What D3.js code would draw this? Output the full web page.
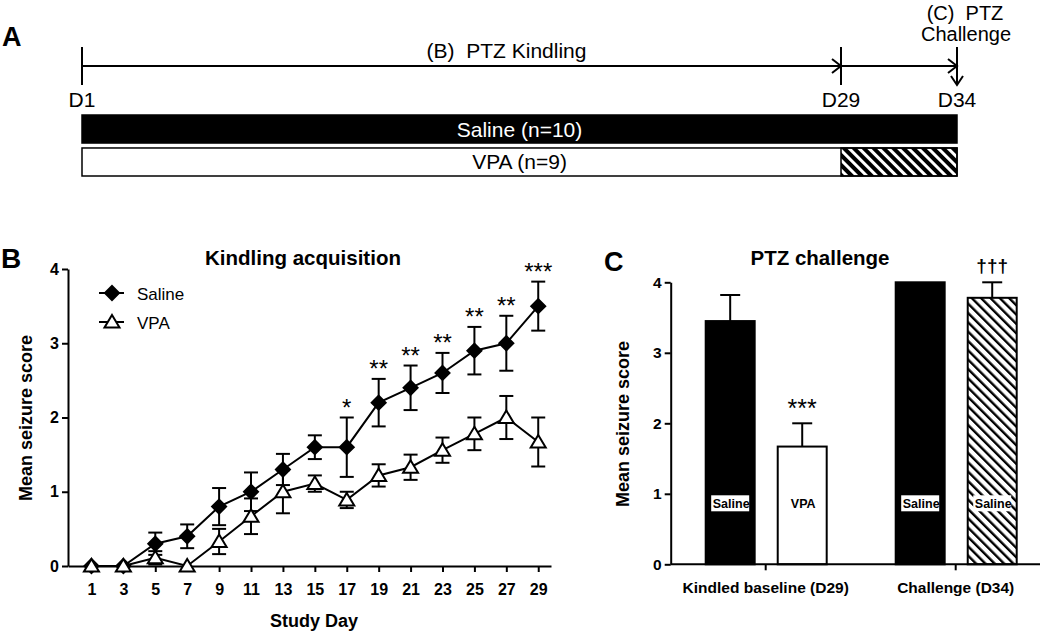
<!DOCTYPE html>
<html>
<head>
<meta charset="utf-8">
<script src="https://cdn.jsdelivr.net/npm/d3@7/dist/d3.min.js"></script>
<style>
body { margin: 0; background: #fff; }
svg { display: block; font-family: 'Liberation Sans', Arial, sans-serif; }
</style>
</head>
<body>
<svg id="fig" width="1050" height="631"></svg>
<script>
// panel A - study timeline
const timelineDays = [1, 29, 34]
const timelineLabels = ['D1', 'D29', 'D34']
const rowLabels = ['Saline (n=10)', 'VPA (n=9)']
const washoutFrom = [null, 29]

// panel B - kindling acquisition (mean +/- sem)
const studyDays = [1, 3, 5, 7, 9, 11, 13, 15, 17, 19, 21, 23, 25, 27, 29]
const salineMean = [0, 0, 0.3, 0.4, 0.8, 1.0, 1.3, 1.6, 1.6, 2.2, 2.4, 2.6, 2.9, 3.0, 3.5]
const salineSem = [0, 0, 0.15, 0.16, 0.25, 0.26, 0.21, 0.16, 0.4, 0.32, 0.3, 0.27, 0.32, 0.37, 0.33]
const vpaMean = [0, 0, 0.11, 0, 0.33, 0.67, 1.0, 1.11, 0.89, 1.22, 1.33, 1.56, 1.78, 2.0, 1.67]
const vpaSem = [0, 0, 0.09, 0, 0.17, 0.24, 0.29, 0.11, 0.11, 0.15, 0.17, 0.17, 0.22, 0.29, 0.33]
const dayStars = ['', '', '', '', '', '', '', '', '*', '**', '**', '**', '**', '**', '***']
const scoreTicks = [0, 1, 2, 3, 4]

// panel C - PTZ challenge
const challengeGroups = ['Kindled baseline (D29)', 'Challenge (D34)']
const firstBar = [3.45, 4.0]
const firstErr = [0.37, 0]
const secondBar = [1.67, 3.78]
const secondErr = [0.33, 0.22]
const barLabels = [['Saline', 'VPA'], ['Saline', 'Saline']]
const barMarks = [['', '***'], ['', '\u2020\u2020\u2020']]

const svg = d3.select('#fig')
const defs = svg.append('defs')

// hatch patterns (diagonal \ stripes)
defs.append('pattern')
	.attr('id', 'hatchA')
	.attr('patternUnits', 'userSpaceOnUse')
	.attr('width', 7).attr('height', 7)
	.attr('patternTransform', 'rotate(-45)')
	.append('rect').attr('width', 4).attr('height', 7).attr('fill', '#000')
defs.append('pattern')
	.attr('id', 'hatchC')
	.attr('patternUnits', 'userSpaceOnUse')
	.attr('width', 6.6).attr('height', 6.6)
	.attr('patternTransform', 'rotate(-45)')
	.append('rect').attr('width', 2.4).attr('height', 6.6).attr('fill', '#000')

// ---------------- panel A ----------------
const gA = svg.append('g')
const xA = d3.scaleLinear().domain(timelineDays).range([82, 841, 957])
const lineY = 66

gA.append('text').text('A')
	.attr('x', 2).attr('y', 46)
	.attr('font-size', 27).attr('font-weight', 'bold')

gA.append('line')
	.attr('x1', xA(1)).attr('x2', xA(34))
	.attr('y1', lineY).attr('y2', lineY)
	.attr('stroke', '#000').attr('stroke-width', 2)

// vertical ticks at D1 and D29, arrow at D34
timelineDays.forEach((d, i) => {
	gA.append('line')
		.attr('x1', xA(d)).attr('x2', xA(d))
		.attr('y1', 47).attr('y2', i == 2 ? 84 : 85)
		.attr('stroke', '#000').attr('stroke-width', 2)
	gA.append('text').text(timelineLabels[i])
		.attr('x', xA(d)).attr('y', 107)
		.attr('text-anchor', 'middle')
		.attr('font-size', 21)
})
// right-pointing chevrons
;[29, 34].forEach(d => {
	const x = xA(d)
	gA.append('polyline')
		.attr('points', [[x - 9, lineY - 7], [x, lineY], [x - 9, lineY + 7]].join(' '))
		.attr('fill', 'none').attr('stroke', '#000').attr('stroke-width', 2)
})
// down chevron on D34
gA.append('polyline')
	.attr('points', [[xA(34) - 6, 76], [xA(34), 85], [xA(34) + 6, 76]].join(' '))
	.attr('fill', 'none').attr('stroke', '#000').attr('stroke-width', 2)

gA.append('text').text('(B)  PTZ Kindling')
	.attr('x', (xA(1) + xA(29)) / 2 + 45).attr('y', 58)
	.attr('text-anchor', 'middle').attr('font-size', 21)
	.style('white-space', 'pre')
gA.append('text').text('(C)  PTZ')
	.attr('x', 965).attr('y', 20)
	.attr('text-anchor', 'middle').attr('font-size', 20)
	.style('white-space', 'pre')
gA.append('text').text('Challenge')
	.attr('x', 966).attr('y', 41)
	.attr('text-anchor', 'middle').attr('font-size', 20)

// treatment rows
const rowY = d3.scaleBand().domain(rowLabels).range([115, 176]).paddingInner(0.15)
rowLabels.forEach((lab, i) => {
	const y0 = rowY(lab)
	const h = rowY.bandwidth()
	gA.append('rect')
		.attr('x', xA(1)).attr('y', y0)
		.attr('width', xA(34) - xA(1)).attr('height', h)
		.attr('fill', i == 0 ? '#000' : '#fff')
		.attr('stroke', '#000').attr('stroke-width', 1.5)
	if (washoutFrom[i] != null) {
		gA.append('rect')
			.attr('x', xA(washoutFrom[i])).attr('y', y0)
			.attr('width', xA(34) - xA(washoutFrom[i])).attr('height', h)
			.attr('fill', 'url(#hatchA)')
			.attr('stroke', '#000').attr('stroke-width', 1.5)
	}
	gA.append('text').text(lab)
		.attr('x', (xA(1) + xA(34)) / 2).attr('y', y0 + h / 2 + 7.5)
		.attr('text-anchor', 'middle').attr('font-size', 21)
		.attr('fill', i == 0 ? '#fff' : '#000')
})

// ---------------- panel B ----------------
const gB = svg.append('g')
const xB = d3.scaleLinear().domain([-0.47, 29.8]).range([68, 551])
const yB = d3.scaleLinear().domain([0, 4]).range([566, 269])

gB.append('text').text('B')
	.attr('x', 1).attr('y', 268)
	.attr('font-size', 28).attr('font-weight', 'bold')
gB.append('text').text('Kindling acquisition')
	.attr('x', 303).attr('y', 265)
	.attr('text-anchor', 'middle')
	.attr('font-size', 20.5).attr('font-weight', 'bold')

const axB = gB.append('g')
	.attr('transform', `translate(${xB.range()[0]},0)`)
	.call(d3.axisLeft(yB).tickValues(scoreTicks).tickFormat(d3.format('d'))
		.tickSize(6).tickSizeOuter(0).tickPadding(3))
const axBx = gB.append('g')
	.attr('transform', `translate(0,${yB(0)})`)
	.call(d3.axisBottom(xB).tickValues(studyDays).tickFormat(d3.format('d'))
		.tickSize(6).tickSizeOuter(0).tickPadding(12))
;[axB, axBx].forEach(a => {
	a.selectAll('path, line').attr('stroke', '#000').attr('stroke-width', 2)
	a.selectAll('text').attr('font-size', 16).attr('font-weight', 'bold')
		.attr('font-family', "'Liberation Sans', Arial, sans-serif").attr('fill', '#000')
})

gB.append('text').text('Study Day')
	.attr('x', 314).attr('y', 627)
	.attr('text-anchor', 'middle')
	.attr('font-size', 18).attr('font-weight', 'bold')
gB.append('text').text('Mean seizure score')
	.attr('transform', 'translate(32,418) rotate(-90)')
	.attr('text-anchor', 'middle')
	.attr('font-size', 18).attr('font-weight', 'bold')

const diamond = 'M0,-7L7,0L0,7L-7,0Z'
const triangle = 'M0,-7L7.5,5.5L-7.5,5.5Z'
const series = [
	{name: 'Saline', mean: salineMean, sem: salineSem, marker: diamond, fill: '#000'},
	{name: 'VPA', mean: vpaMean, sem: vpaSem, marker: triangle, fill: '#fff'}
]
const line = d3.line().x((d, i) => xB(studyDays[i])).y(d => yB(d))

series.forEach(s => {
	const g = gB.append('g')
	// error bars
	studyDays.forEach((day, i) => {
		if (s.sem[i] <= 0) return
		const x = xB(day)
		const lo = yB(s.mean[i] - s.sem[i])
		const hi = yB(s.mean[i] + s.sem[i])
		g.append('line').attr('x1', x).attr('x2', x).attr('y1', lo).attr('y2', hi)
		g.append('line').attr('x1', x - 7).attr('x2', x + 7).attr('y1', lo).attr('y2', lo)
		g.append('line').attr('x1', x - 7).attr('x2', x + 7).attr('y1', hi).attr('y2', hi)
	})
	g.selectAll('line').attr('stroke', '#000').attr('stroke-width', 2)
	g.append('path').datum(s.mean)
		.attr('d', line)
		.attr('fill', 'none').attr('stroke', '#000').attr('stroke-width', 2)
	g.selectAll('path.marker')
		.data(s.mean)
		.enter()
		.append('path')
		.attr('class', 'marker')
		.attr('d', s.marker)
		.attr('transform', (d, i) => `translate(${xB(studyDays[i])},${yB(d)})`)
		.attr('fill', s.fill).attr('stroke', '#000').attr('stroke-width', 2)
})

// significance stars
gB.selectAll('text.star')
	.data(dayStars)
	.enter()
	.append('text')
	.attr('class', 'star')
	.text(d => d)
	.attr('x', (d, i) => xB(studyDays[i]))
	.attr('y', (d, i) => yB(salineMean[i] + salineSem[i]) - 2)
	.attr('text-anchor', 'middle')
	.attr('font-size', 24)

// legend
series.forEach((s, i) => {
	const ly = 293 + i * 29
	gB.append('line')
		.attr('x1', 99).attr('x2', 124).attr('y1', ly).attr('y2', ly)
		.attr('stroke', '#000').attr('stroke-width', 2)
	gB.append('path').attr('d', s.marker)
		.attr('transform', `translate(112,${ly})`)
		.attr('fill', s.fill).attr('stroke', '#000').attr('stroke-width', 2)
	gB.append('text').text(s.name)
		.attr('x', 137).attr('y', ly + 6.5)
		.attr('font-size', 17)
})

// ---------------- panel C ----------------
const gC = svg.append('g')
const xC = d3.scaleBand().domain(challengeGroups).range([670.7, 1050.7])
const yC = d3.scaleLinear().domain([0, 4]).range([564.3, 282.3])
const inner = d3.scaleBand().domain([0, 1]).range([-60, 61]).paddingInner(0.32)

gC.append('text').text('C')
	.attr('x', 604).attr('y', 271)
	.attr('font-size', 27).attr('font-weight', 'bold')
gC.append('text').text('PTZ challenge')
	.attr('x', 820).attr('y', 265)
	.attr('text-anchor', 'middle')
	.attr('font-size', 20.5).attr('font-weight', 'bold')
gC.append('text').text('Mean seizure score')
	.attr('transform', 'translate(629,424) rotate(-90)')
	.attr('text-anchor', 'middle')
	.attr('font-size', 18).attr('font-weight', 'bold')

const barData = []
challengeGroups.forEach((grp, gi) => {
	barData.push({grp, k: 0, v: firstBar[gi], e: firstErr[gi], label: barLabels[gi][0], mark: barMarks[gi][0],
		fill: '#000'})
	barData.push({grp, k: 1, v: secondBar[gi], e: secondErr[gi], label: barLabels[gi][1], mark: barMarks[gi][1],
		fill: gi == 0 ? '#fff' : 'url(#hatchC)'})
})
const bx = d => xC(d.grp) + xC.bandwidth() / 2 + inner(d.k)

// error bars (upper only)
barData.filter(d => d.e > 0).forEach(d => {
	const cx = bx(d) + inner.bandwidth() / 2
	gC.append('line').attr('x1', cx).attr('x2', cx)
		.attr('y1', yC(d.v)).attr('y2', yC(d.v + d.e))
		.attr('stroke', '#000').attr('stroke-width', 2)
	gC.append('line').attr('x1', cx - 10).attr('x2', cx + 10)
		.attr('y1', yC(d.v + d.e)).attr('y2', yC(d.v + d.e))
		.attr('stroke', '#000').attr('stroke-width', 2)
})

gC.selectAll('rect.bar')
	.data(barData)
	.enter()
	.append('rect')
	.attr('class', 'bar')
	.attr('x', bx)
	.attr('y', d => yC(d.v))
	.attr('width', inner.bandwidth())
	.attr('height', d => yC(0) - yC(d.v))
	.attr('fill', d => d.fill)
	.attr('stroke', '#000').attr('stroke-width', 2)

// bar labels in white boxes
barData.forEach(d => {
	const cx = bx(d) + inner.bandwidth() / 2
	gC.append('rect')
		.attr('x', cx - 19).attr('y', yC(0) - 69)
		.attr('width', 38).attr('height', 16)
		.attr('fill', '#fff')
	gC.append('text').text(d.label)
		.attr('x', cx + 1).attr('y', yC(0) - 56)
		.attr('text-anchor', 'middle')
		.attr('font-size', 12.5).attr('font-weight', 'bold')
	if (d.mark) {
		const isStar = d.mark == '***'
		gC.append('text').text(d.mark)
			.attr('x', cx).attr('y', yC(d.v + d.e) - (isStar ? 6 : 10))
			.attr('text-anchor', 'middle')
			.attr('font-size', isStar ? 25 : 19)
			.attr('font-weight', isStar ? 'normal' : 'bold')
	}
})

const axC = gC.append('g')
	.attr('transform', `translate(${xC.range()[0]},0)`)
	.call(d3.axisLeft(yC).tickValues(scoreTicks).tickFormat(d3.format('d'))
		.tickSize(6).tickSizeOuter(0).tickPadding(3))
const axCx = gC.append('g')
	.attr('transform', `translate(0,${yC(0)})`)
	.call(d3.axisBottom(xC).tickSize(6).tickSizeOuter(0).tickPadding(12))
axCx.select('path.domain').attr('d', `M${xC.range()[0]},0H1040`)
;[axC, axCx].forEach(a => {
	a.selectAll('path, line').attr('stroke', '#000').attr('stroke-width', 2)
	a.selectAll('text').attr('font-size', 15.5).attr('font-weight', 'bold')
		.attr('font-family', "'Liberation Sans', Arial, sans-serif").attr('fill', '#000')
})
</script>
</body>
</html>
